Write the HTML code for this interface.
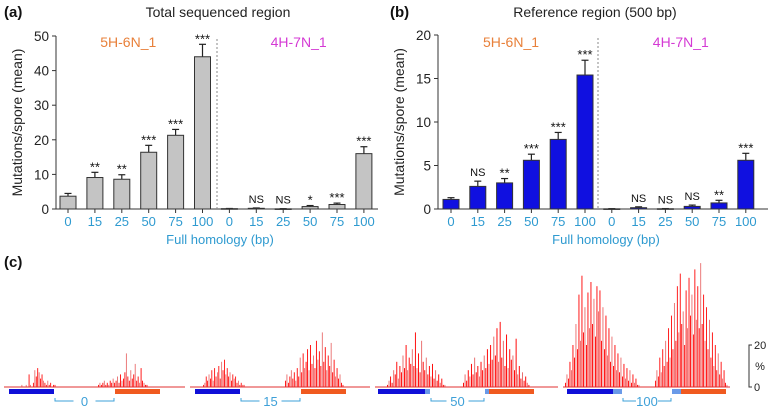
<!DOCTYPE html>
<html><head><meta charset="utf-8"><style>
body{margin:0;background:#fff;width:774px;height:406px;overflow:hidden;font-family:"Liberation Sans",Arial,sans-serif}
svg text{font-family:"Liberation Sans",Arial,sans-serif}
</style></head><body>
<svg id="fig" width="774" height="406" viewBox="0 0 774 406"></svg>
<script>
const cats=["0","15","25","50","75","100","0","15","25","50","75","100"];
const aVals=[3.7,9.1,8.6,16.4,21.3,44,0.1,0.2,0.05,0.7,1.3,16];
const aErr=[0.8,1.5,1.3,2.0,1.7,3.6,0.05,0.1,0.05,0.3,0.4,2.0];
const aSig=["","**","**","***","***","***","","NS","NS","*","***","***"];
const aTicks=[0,10,20,30,40,50];
const bVals=[1.1,2.6,3.0,5.6,8.0,15.4,0.02,0.15,0.03,0.3,0.7,5.6];
const bErr=[0.2,0.6,0.5,0.7,0.8,1.7,0.02,0.1,0.02,0.15,0.3,0.8];
const bSig=["","NS","**","***","***","***","","NS","NS","NS","**","***"];
const bTicks=[0,5,10,15,20];
const g1L=[0,1,0,0,1,0,6,1,0,2,8,5,9,7,4,6,3,2,1,3,1,2,0,1,1];
const g1R=[1,2,1,2,3,1,2,1,3,2,4,2,3,5,2,6,3,4,7,16,5,3,8,4,6,11,3,5,2,9,3,2,1,1];
const g2L=[1,2,5,3,6,4,8,3,9,5,7,10,4,12,8,13,6,9,5,7,3,6,4,5,2,3,1,2,1,1];
const g2R=[3,6,2,5,8,4,7,3,9,5,14,7,16,9,12,18,8,20,11,15,9,22,13,17,10,26,12,19,8,15,10,21,7,13,5,9,4,6,2,1];
const g3L=[1,3,5,2,8,6,12,4,10,7,15,9,20,8,14,11,18,10,26,9,16,7,22,12,8,14,6,10,5,11,4,8,3,6,2,4,1,1];
const g3R=[2,6,3,8,5,11,6,14,7,10,5,12,8,15,9,18,11,20,13,24,15,28,12,31,14,22,10,25,9,18,13,15,8,23,6,10,4,7,3,5,2,1];
const g4L=[2,6,4,12,8,20,14,30,18,44,22,53,26,38,20,45,28,50,30,42,24,48,36,46,22,38,18,34,15,28,12,24,10,20,8,16,7,14,5,11,4,9,3,8,2,6,2,4,1,1];
const g4R=[3,8,5,14,7,18,10,22,12,28,14,34,18,40,22,48,26,54,30,36,20,46,28,52,34,44,25,56,32,48,28,59,30,44,22,38,18,32,14,26,10,20,8,16,6,12,4,8,2,1];
const groupLabels=["0","15","50","100"];

const svg=document.getElementById('fig');
const NS='http://www.w3.org/2000/svg';
function mk(tag,attrs,parent){const e=document.createElementNS(NS,tag);for(const k in attrs)e.setAttribute(k,attrs[k]);(parent||svg).appendChild(e);return e;}
function txt(s,x,y,size,fill,anchor,weight,parent){const t=mk('text',{x:x,y:y,'font-size':size,fill:fill,'text-anchor':anchor||'middle','font-weight':weight||'normal'},parent);t.textContent=s;return t;}

function panel(o){
  const g=mk('g',{});
  
  
  const ys=v=>o.y0-(v/o.max)*(o.y0-o.yTop);
  const xs=i=>o.x0+o.first+i*o.step;
  const tl=txt(o.letter,4,17,15,'#111','start','bold',g);
  
  const tt=txt(o.title,o.titleX,17,14,'#222','middle','normal',g);
  
  const ax=mk('path',{d:`M${o.x0},${o.yTop} V${o.y0} H${o.x1}`,stroke:'#333','stroke-width':1,fill:'none'},g);
  
  o.ticks.forEach(t=>{const y=ys(t);mk('line',{x1:o.x0-4,x2:o.x0,y1:y,y2:y,stroke:'#333'},g);
    const l=txt(String(t),o.x0-7,y+5,13.5,'#222','end','normal',g);});
  const yt=txt('Mutations/spore (mean)',0,0,14,'#222','middle','normal',g);
  yt.setAttribute('transform',`translate(${o.x0-34},${(o.y0+o.yTop)/2}) rotate(-90)`);
  
  const xt=txt('Full homology (bp)',(o.x0+o.x1)/2+3,244,13,'#2e9ad0','middle','normal',g);
  
  const dv=mk('line',{x1:o.div,x2:o.div,y1:o.yTop+3,y2:o.y0,stroke:'#888','stroke-dasharray':'2,2'},g);
  
  const s1=txt('5H-6N_1',xs(2.5)-7,47,14,'#e8803a','middle','normal',g);
  
  const s2=txt('4H-7N_1',xs(8.5)+2,47,14,'#d43ad4','middle','normal',g);
  
  o.vals.forEach((v,i)=>{
    const cx=xs(i),w=16,y=ys(v),ye=ys(v+o.err[i]);
    mk('line',{x1:cx,x2:cx,y1:ye,y2:y,stroke:'#222','stroke-width':1.2},g);
    mk('line',{x1:cx-3.5,x2:cx+3.5,y1:ye,y2:ye,stroke:'#222','stroke-width':1.2},g);
    const r=mk('rect',{x:cx-w/2,y:y,width:w,height:Math.max(o.y0-y,0.6),fill:o.color,stroke:'#333','stroke-width':1},g);
    
    mk('line',{x1:cx,x2:cx,y1:o.y0,y2:o.y0+4,stroke:'#333'},g);
    const l=txt(cats[i],cx,o.y0+17,13,'#2e9ad0','middle','normal',g);
    if(o.sig[i]){const s=txt(o.sig[i],cx,ye-6+(o.sig[i]==='NS'?1:5),o.sig[i]==='NS'?11:13,'#111','middle','normal',g);}
  });
}
panel({name:'panel-a',letter:'(a)',title:'Total sequenced region',titleX:218,x0:56,x1:378,y0:209,yTop:36,max:50,first:12,step:26.9,div:217,vals:aVals,err:aErr,sig:aSig,ticks:aTicks,color:'#c4c4c4'});
panel({name:'panel-b',letter:'',title:'Reference region (500 bp)',titleX:595,x0:438,x1:768,y0:209,yTop:35,max:20,first:13,step:26.8,div:598,vals:bVals,err:bErr,sig:bSig,ticks:bTicks,color:'#1010e0'});
const lb=txt('(b)',390,17,15,'#111','start','bold');
const lc=txt('(c)',4,267,15,'#111','start','bold');

// panel c
const base=387, pxPer=42/20;
const groups=[
 {line:[4,185],blue:[9,54],orange:[115,160],lb:null,ob:null,L:g1L,Lx:[20,56],R:g1R,Rx:[98,148]},
 {line:[190,370],blue:[195,240],orange:[301,346],lb:null,ob:null,L:g2L,Lx:[203,245],R:g2R,Rx:[285,344]},
 {line:[375,558],blue:[378,425],orange:[489,534],lb:[425,430],ob:[485,489],L:g3L,Lx:[387,446],R:g3R,Rx:[463,530]},
 {line:[563,730],blue:[567,613],orange:[681,726],lb:[613,622],ob:[672,681],L:g4L,Lx:[565,640],R:g4R,Rx:[655,728]}
];
groups.forEach((G,gi)=>{
  const g=mk('g',{});
  
  
  [[G.L,G.Lx],[G.R,G.Rx]].forEach(([arr,rng])=>{
    const st=(rng[1]-rng[0])/arr.length;
    arr.forEach((v,i)=>{
      const h=v*pxPer;
      const s=mk('rect',{x:rng[0]+i*st,y:base-h,width:Math.max(st*0.6,0.8),height:h,fill:i%3===1?'#e86a6a':'#f00'},g);
      
      
    });
  });
  mk('line',{x1:G.line[0],x2:G.line[1],y1:base,y2:base,stroke:'#e03030','stroke-width':1},g);
  const b=mk('rect',{x:G.blue[0],y:389,width:G.blue[1]-G.blue[0],height:5,fill:'#1010d8'},g);
  
  const or=mk('rect',{x:G.orange[0],y:389,width:G.orange[1]-G.orange[0],height:5,fill:'#f05a20'},g);
  
  if(G.lb){mk('rect',{x:G.lb[0],y:389,width:G.lb[1]-G.lb[0],height:5,fill:'#6a9ae8'},g);mk('rect',{x:G.ob[0],y:389,width:G.ob[1]-G.ob[0],height:5,fill:'#6a9ae8'},g);}
  const x1=G.blue[1]+(G.lb?G.lb[1]-G.lb[0]:0)+1, x2=G.orange[0]-(G.ob?G.ob[1]-G.ob[0]:0)-1, mid=(x1+x2)/2;
  mk('path',{d:`M${x1},398 V401 H${mid-11} M${mid+11},401 H${x2} V398`,stroke:'#3ea0d8','stroke-width':1,fill:'none'},g);
  const t=txt(groupLabels[gi],mid,406,13,'#3ea0d8','middle','normal',g);
  
});
const sc=mk('g',{});
mk('path',{d:`M752,${base-42} H749 V${base} H752`,stroke:'#333',fill:'none'},sc);
txt('20',754,base-38,11,'#222','start','normal',sc);
txt('%',760,base-17,11,'#222','middle','normal',sc);
txt('0',754,base+4,11,'#222','start','normal',sc);
</script>
</body></html>
